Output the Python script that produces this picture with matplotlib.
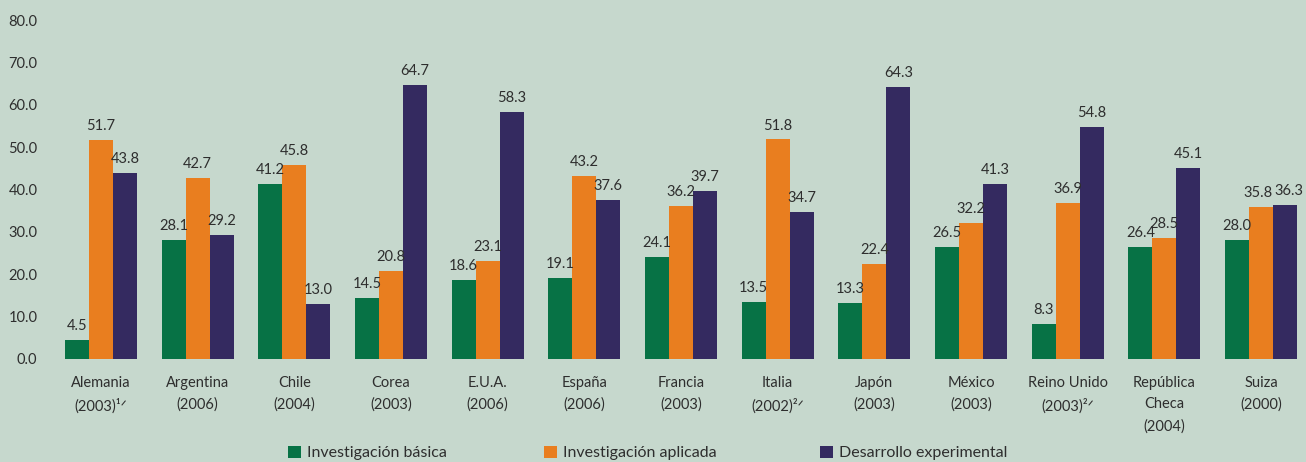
import matplotlib
matplotlib.use('Agg')
import matplotlib.pyplot as plt
import numpy as np

plt.rcParams['font.family'] = ['Lato', 'DejaVu Sans']

countries = [
    'Alemania\n(2003)¹ᐟ', 'Argentina\n(2006)', 'Chile\n(2004)', 'Corea\n(2003)',
    'E.U.A.\n(2006)', 'España\n(2006)', 'Francia\n(2003)', 'Italia\n(2002)²ᐟ',
    'Japón\n(2003)', 'México\n(2003)', 'Reino Unido\n(2003)²ᐟ',
    'República\nCheca\n(2004)', 'Suiza\n(2000)',
]
basica = [4.5, 28.1, 41.2, 14.5, 18.6, 19.1, 24.1, 13.5, 13.3, 26.5, 8.3, 26.4, 28.0]
aplicada = [51.7, 42.7, 45.8, 20.8, 23.1, 43.2, 36.2, 51.8, 22.4, 32.2, 36.9, 28.5, 35.8]
experimental = [43.8, 29.2, 13.0, 64.7, 58.3, 37.6, 39.7, 34.7, 64.3, 41.3, 54.8, 45.1, 36.3]
series_names = ['Investigación básica', 'Investigación aplicada', 'Desarrollo experimental']

bg = '#c6d8cd'
colors = ['#077245', '#e97e1f', '#342a60']
text_color = '#2e2e2e'

W, H = 1306, 462
fig = plt.figure(figsize=(W / 100, H / 100), dpi=100, facecolor=bg)
# axes box in pixels: left 50, bottom 103, top 442
ax = fig.add_axes([50 / W, 103 / H, (W - 50) / W, (442 - 103) / H])
ax.set_facecolor(bg)

x = np.arange(len(countries))
width = 0.248
handles = []
for i, (vals, col) in enumerate(zip([basica, aplicada, experimental], colors)):
    bars = ax.bar(x + (i - 1) * width, vals, width, color=col, linewidth=0)
    handles.append(bars)
    for j, (b, v) in enumerate(zip(bars, vals)):
        # spread neighbouring labels apart when they sit at nearly the same height
        dx = 0
        if i == 1 and abs(v - experimental[j]) < 2.5:
            dx = -2.5
        elif i == 2 and abs(v - aplicada[j]) < 2.5:
            dx = 2.5
        ax.annotate(f'{v:.1f}', (b.get_x() + b.get_width() / 2, v),
                    xytext=(dx, 5), textcoords='offset points',
                    ha='center', va='bottom', fontsize=10.5, color=text_color)

px = 96.67  # pixels per group
ax.set_xlim(-51 / px, (W - 101) / px)
ax.set_ylim(0, 80)
ax.set_yticks(np.arange(0, 81, 10))
ax.set_yticklabels([f'{v:.1f}' for v in np.arange(0, 81, 10)])
ax.set_xticks(x)
ax.set_xticklabels(countries, linespacing=1.7)
ax.tick_params(axis='both', length=0, labelsize=10.5, colors=text_color)
ax.tick_params(axis='y', pad=9)
ax.tick_params(axis='x', pad=12)
for s in ax.spines.values():
    s.set_visible(False)

# one legend entry per series, spread along the bottom
for h, name, xpix in zip(handles, series_names, [288, 544, 820]):
    fig.legend([h], [name], loc='center left', bbox_to_anchor=(xpix / W, 9 / H),
               frameon=False, fontsize=11.5, handlelength=0.8, handleheight=0.8,
               handletextpad=0.4, borderpad=0, borderaxespad=0, labelcolor=text_color)

fig.savefig('out.png', dpi=100, facecolor=bg)
